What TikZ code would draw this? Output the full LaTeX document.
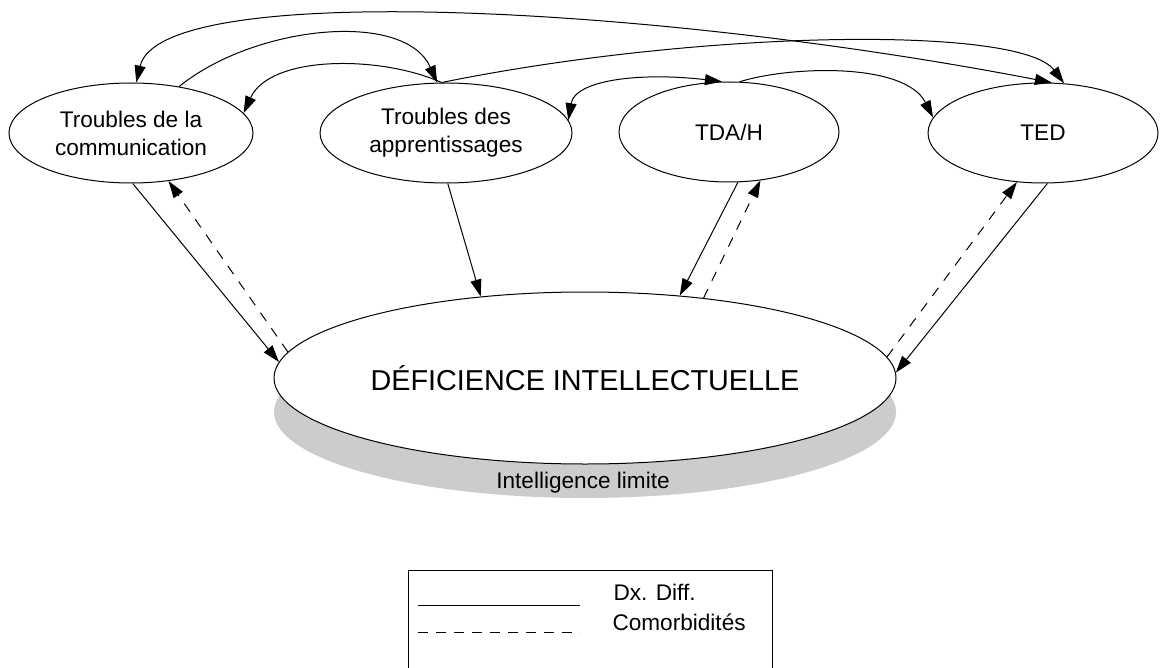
\documentclass[tikz,border=0pt]{standalone}
\usepackage{fontspec}
\setmainfont{Liberation Sans}
\usetikzlibrary{shapes.geometric,arrows.meta}
\begin{document}
\begin{tikzpicture}[
    x=0.5pt, y=-0.5pt,
    line width=0.5pt,
    >={Triangle[length=8.5pt,width=5.5pt]},
    every node/.style={font=\fontsize{11.3}{14}\selectfont, align=center},
    trouble/.style={draw, ellipse, inner sep=0pt, minimum width=#1, minimum height=50pt},
    deficience/.style={draw, ellipse, fill=white, inner sep=0pt, minimum width=311pt, minimum height=86pt, font=\fontsize{14.4}{17}\selectfont},
    ombre/.style={ellipse, fill=black!20, inner sep=0pt, minimum width=311pt, minimum height=86pt},
    diff/.style={->},
    comorb/.style={->, dash pattern=on 5pt off 4.5pt}
    ]
    \useasboundingbox (0,0) rectangle (1160,668);
    \node[trouble=122pt] (e1) at (131,133) {Troubles de la\\communication};
    \node[trouble=126pt] (e2) at (446,133) {Troubles des\\apprentissages};
    \node[trouble=110pt] (e3) at (729,132) {TDA/H};
    \node[trouble=115pt] (e4) at (1043,133) {TED};
    \node[ombre] (lim) at (585,412) {}; % shadow
    \node[deficience] (di) at (585,378) {DÉFICIENCE INTELLECTUELLE};
    \node (limtxt) at (583,483) {Intelligence limite};

    % links between the troubles
    \draw[<->] (e1.84) .. controls (160,-20) and (650,5) .. (e4.80);
    \draw[->] (e2.95) .. controls (700,30) and (1020,25) .. (e4.67);
    \draw[->] (e1.44) .. controls (255,25) and (405,10) .. (e2.100);
    \draw[->] (e2.95) .. controls (380,55) and (270,55) .. (e1.10);
    \draw[<->] (e2.6) .. controls (575,80) and (640,72) .. (e3.98);
    \draw[->] (e3.78) .. controls (790,66) and (905,62) .. (e4.172);

    % towards and from the deficience
    \draw[diff] (e1.272) -- (di.177);
    \draw[comorb] (di.175) -- (e1.308);
    \draw[diff] (e2.272) -- (di.142);
    \draw[diff] (e3.280) -- (di.41);
    \draw[comorb] (di.34) -- (e3.303);
    \draw[diff] (e4.275) -- (di.1);
    \draw[comorb] (di.4) -- (e4.242);

    % legend
    \node[draw, anchor=north west, inner sep=0pt, minimum width=182pt, minimum height=60pt] (legende) at (408,570) {};
    \draw (418,605) -- (580,605);
    \draw[dash pattern=on 5pt off 4pt] (418,632) -- (580,632);
    \node[anchor=west, inner sep=0pt] (dxtxt) at (613,592) {Dx. Diff.};
    \node[anchor=west, inner sep=0pt] (comtxt) at (612,622) {Comorbidités};
\end{tikzpicture}
\end{document}
